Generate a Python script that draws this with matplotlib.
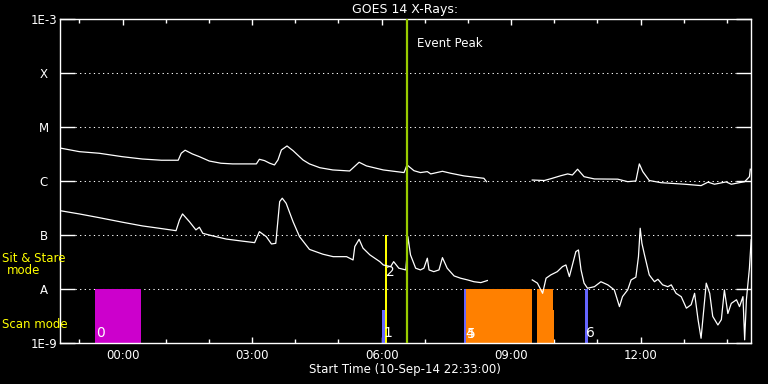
import numpy as np
import matplotlib
matplotlib.use('Agg')
import matplotlib.pyplot as plt
from matplotlib.ticker import FixedLocator, NullLocator

# ── Data (time in hours relative to 00:00 on 11-Sep-14, flux in W/m^2) ────────
T_START = -1.45   # 22:33 on 10-Sep-14
T_END   = 14.55

long_t = [-1.45, -1.0, -0.54, -0.01, 0.46, 0.90, 1.29, 1.36, 1.45, 1.62, 1.78,
          2.01, 2.28, 2.55, 3.10, 3.17, 3.29, 3.41, 3.52, 3.60, 3.68, 3.81,
          3.95, 4.18, 4.33, 4.57, 4.87, 5.26, 5.33, 5.48, 5.65, 6.04, 6.52,
          6.59, 6.75, 6.90, 7.06, 7.14, 7.41, 7.60, 7.91, 8.37, 8.43, 8.9,
          9.49, 9.77, 9.92, 10.15, 10.31, 10.42, 10.54, 10.69, 10.93, 11.47,
          11.70, 11.89, 11.97, 12.05, 12.20, 12.47, 13.02, 13.40, 13.56, 13.71,
          13.98, 14.10, 14.41, 14.52, 14.54]
long_f = [4.08e-6, 3.49e-6, 3.26e-6, 2.82e-6, 2.55e-6, 2.42e-6, 2.42e-6,
          3.26e-6, 3.71e-6, 3.16e-6, 2.82e-6, 2.34e-6, 2.13e-6, 2.07e-6,
          2.07e-6, 2.52e-6, 2.38e-6, 2.13e-6, 1.98e-6, 2.45e-6, 3.75e-6,
          4.45e-6, 3.64e-6, 2.45e-6, 2.07e-6, 1.76e-6, 1.60e-6, 1.53e-6,
          1.72e-6, 2.22e-6, 1.90e-6, 1.60e-6, 1.43e-6, 1.98e-6, 1.55e-6,
          1.43e-6, 1.49e-6, 1.35e-6, 1.51e-6, 1.39e-6, 1.24e-6, 1.12e-6,
          9.7e-7, np.nan, 1.04e-6, 1.02e-6, 1.10e-6, 1.25e-6, 1.35e-6,
          1.29e-6, 1.65e-6, 1.20e-6, 1.09e-6, 1.08e-6, 9.7e-7, 1.0e-6,
          2.07e-6, 1.49e-6, 1.02e-6, 9.3e-7, 8.7e-7, 8.2e-7, 9.5e-7, 8.7e-7,
          9.6e-7, 8.7e-7, 9.7e-7, 1.20e-6, 1.65e-6]

short_t = [-1.45, -1.0, -0.54, 0.0, 0.46, 0.85, 1.24, 1.32, 1.39, 1.55, 1.70,
           1.78, 1.86, 2.09, 2.40, 2.71, 3.06, 3.17, 3.33, 3.45, 3.55, 3.64,
           3.70, 3.79, 3.95, 4.10, 4.33, 4.64, 4.88, 5.19, 5.34, 5.38, 5.48,
           5.57, 5.73, 5.96, 6.04, 6.21, 6.28, 6.40, 6.56, 6.58, 6.61, 6.67,
           6.79, 6.90, 6.98, 7.06, 7.10, 7.21, 7.33, 7.41, 7.52, 7.68, 7.83,
           7.99, 8.14, 8.30, 8.45, 8.9, 9.49, 9.61, 9.69, 9.73, 9.81, 9.92,
           10.07, 10.19, 10.27, 10.35, 10.42, 10.50, 10.56, 10.62, 10.69,
           10.77, 10.93, 11.08, 11.24, 11.39, 11.51, 11.58, 11.70, 11.78,
           11.89, 11.95, 11.99, 12.03, 12.09, 12.20, 12.32, 12.40, 12.51,
           12.63, 12.71, 12.82, 12.94, 13.06, 13.17, 13.25, 13.33, 13.40,
           13.52, 13.60, 13.67, 13.79, 13.87, 13.94, 14.02, 14.10, 14.22,
           14.29, 14.37, 14.41, 14.45, 14.52, 14.56]
short_f = [2.82e-7, 2.45e-7, 2.09e-7, 1.72e-7, 1.47e-7, 1.33e-7, 1.20e-7,
           1.90e-7, 2.45e-7, 1.76e-7, 1.24e-7, 1.39e-7, 1.07e-7, 9.6e-8,
           8.4e-8, 7.8e-8, 7.2e-8, 1.15e-7, 9.3e-8, 6.8e-8, 7.0e-8, 4.14e-7,
           4.79e-7, 3.86e-7, 1.76e-7, 9.3e-8, 5.4e-8, 4.4e-8, 3.96e-8, 3.96e-8,
           3.44e-8, 6.1e-8, 8.3e-8, 5.7e-8, 4.27e-8, 3.2e-8, 2.78e-8, 2.59e-8,
           3.2e-8, 2.42e-8, 2.25e-8, 3.44e-8, 9.3e-8, 4.27e-8, 2.42e-8,
           2.25e-8, 2.42e-8, 3.71e-8, 2.25e-8, 2.09e-8, 2.25e-8, 3.8e-8,
           2.42e-8, 1.74e-8, 1.58e-8, 1.47e-8, 1.36e-8, 1.31e-8, 1.43e-8,
           np.nan, 1.47e-8, 1.28e-8, 9.6e-9, 8.3e-9, 1.58e-8, 1.82e-8, 2.09e-8,
           2.59e-8, 2.78e-8, 1.69e-8, 2.78e-8, 4.91e-8, 5.27e-8, 2.25e-8,
           1.28e-8, 1.03e-8, 1.10e-8, 1.36e-8, 1.19e-8, 9.6e-9, 4.7e-9, 7.2e-9,
           9.6e-9, 1.47e-8, 1.65e-8, 3.96e-8, 1.33e-7, 7.0e-8, 4.27e-8,
           1.82e-8, 1.36e-8, 1.51e-8, 1.19e-8, 1.10e-8, 1.19e-8, 8.3e-9,
           7.2e-9, 4.4e-9, 5.1e-9, 8.3e-9, 2.7e-9, 1.22e-9, 1.28e-8, 8.3e-9,
           3.1e-9, 2.15e-9, 2.7e-9, 9.6e-9, 3.5e-9, 5.4e-9, 6.3e-9, 4.7e-9,
           7.2e-9, 1.14e-9, 6.3e-9, 2.42e-8, 8.1e-8]

# observation blocks: start, end (hours), top flux, colour, label
obs_start = [-0.63, 6.02, 6.075, 7.91, 7.955, 9.596, 9.967, 10.717]
obs_end   = [0.43, 6.09, 6.13, 7.955, 9.48, 9.967, 9.997, 10.787]
obs_top   = [1e-8, 4.1e-9, 1e-7, 1e-8, 1e-8, 1e-8, 4.1e-9, 1e-8]
obs_color = ['#cc00cc', '#6666ff', '#ffff00', '#6666ff', '#ff8000',
             '#ff8000', '#ff8000', '#6666ff']
obs_label = ['0', '1', '2', '4', '5', '', '', '6']
obs_label_y = [1.55e-9, 1.55e-9, 2.1e-8, 1.45e-9, 1.45e-9, 1.5e-9, 1.5e-9, 1.55e-9]

EVENT_PEAK = 6.585

class_vals   = [1e-9, 1e-8, 1e-7, 1e-6, 1e-5, 1e-4, 1e-3]
class_labels = ['1E-9', 'A', 'B', 'C', 'M', 'X', '1E-3']
hour_ticks   = [0, 3, 6, 9, 12]
hour_labels  = ['00:00', '03:00', '06:00', '09:00', '12:00']
minor_hours  = [-1, 1, 2, 4, 5, 7, 8, 10, 11, 13, 14]

# ── Plot ──────────────────────────────────────────────────────────────────────
fig = plt.figure(figsize=(7.68, 3.84), dpi=100, facecolor='black')
ax = fig.add_axes([0.078, 0.107, 0.8995, 0.8435], facecolor='black')
ax.set_yscale('log')
ax.set_xlim(T_START, T_END)
ax.set_ylim(1e-9, 1e-3)

# dotted class lines
for v in class_vals[1:-1]:
    ax.axhline(v, xmin=0.022, xmax=0.978, color='white', lw=0.75,
               ls=(0, (1.2, 3.2)))

# observation blocks
for s, e, top, c in zip(obs_start, obs_end, obs_top, obs_color):
    ax.bar(s, top - 1e-9, width=e - s, bottom=1e-9, align='edge',
           color=c, lw=0, zorder=2)
for s, lab, ly in zip(obs_start, obs_label, obs_label_y):
    if lab:
        ax.annotate(lab, (s, ly), xytext=(1, 0), textcoords='offset pixels',
                    color='white', fontsize=10, ha='left', va='center',
                    zorder=5)

# light curves
ax.plot(long_t, long_f, color='white', lw=0.9, zorder=3)
ax.plot(short_t, short_f, color='white', lw=0.9, zorder=3)

# event peak
ax.axvline(EVENT_PEAK, color='#99cc00', lw=1.6, zorder=4)
ax.annotate('Event Peak', (EVENT_PEAK, 1e-3), xytext=(10, -24),
            textcoords='offset pixels', color='white', fontsize=8.5,
            ha='left', va='center')

# axes styling
for sp in ax.spines.values():
    sp.set_color('white')
    sp.set_linewidth(1.0)

ax.yaxis.set_major_locator(FixedLocator(class_vals))
ax.yaxis.set_minor_locator(NullLocator())
ax.set_yticklabels(class_labels)
ax.tick_params(axis='y', which='major', direction='in', length=10.5,
               width=1.0, color='white', left=True, right=True,
               labelcolor='white', labelsize=8.5, pad=11.5)
for lab in ax.get_yticklabels():
    lab.set_horizontalalignment('center')

ax.set_xticks(hour_ticks)
ax.set_xticklabels(hour_labels)
ax.set_xticks(minor_hours, minor=True)
ax.tick_params(axis='x', which='major', direction='in', length=4.5,
               width=1.0, color='white', top=True, bottom=True,
               labelcolor='white', labelsize=8.5, pad=4.5)
ax.tick_params(axis='x', which='minor', direction='in', length=3,
               width=1.0, color='white', top=True, bottom=True)

ax.set_xlabel('Start Time (10-Sep-14 22:33:00)', color='white', fontsize=8.5,
              labelpad=0.5)
ax.set_title('GOES 14 X-Rays:', color='white', fontsize=9, pad=4)

# mode labels
fig.text(0.003, 1 - 258 / 384, 'Sit & Stare', color='#ffff00', fontsize=8.5,
         ha='left', va='center')
fig.text(24 / 768, 1 - 271 / 384, 'mode', color='#ffff00', fontsize=8.5,
         ha='center', va='center')
fig.text(0.003, 1 - 324 / 384, 'Scan mode', color='#ffff00', fontsize=8.5,
         ha='left', va='center')

fig.savefig('out.png', dpi=100, facecolor='black')
